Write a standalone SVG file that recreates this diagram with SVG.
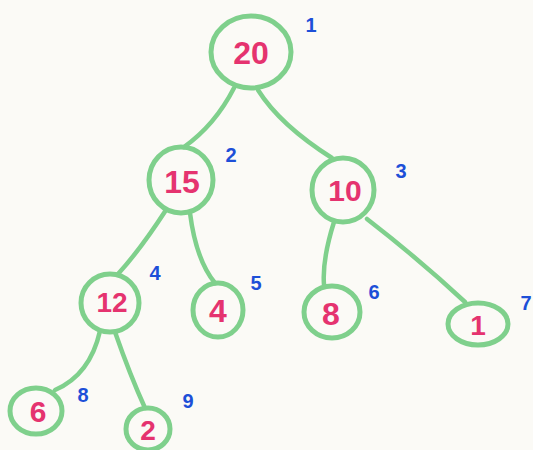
<svg xmlns="http://www.w3.org/2000/svg" width="533" height="450" viewBox="0 0 533 450">
<style>
.n{fill:none;stroke:#7fd08c;stroke-width:5}
.e{fill:none;stroke:#7fd08c;stroke-width:4.5;stroke-linecap:round}
.v{font-family:"Liberation Sans",Arial,sans-serif;fill:#e5336f;text-anchor:middle;font-weight:bold}
.i{font-family:"Liberation Sans",Arial,sans-serif;fill:#1d4fd8;text-anchor:middle;font-weight:bold;font-size:20px}
</style>
<rect width="533" height="450" fill="#fbfaf6"/>
<g id="edges">
<path class="e" d="M234,88 Q215,125 184,147"/>
<path class="e" d="M258,90 Q280,125 332,158"/>
<path class="e" d="M166,210 Q140,250 118,274"/>
<path class="e" d="M190,213 Q196,260 215,283"/>
<path class="e" d="M334,222 Q322,260 324,285"/>
<path class="e" d="M367,219 Q420,260 465,302"/>
<path class="e" d="M100,331 Q90,375 55,390"/>
<path class="e" d="M115,332 Q130,375 145,408"/>
</g>
<g id="n1"><ellipse class="n" cx="251" cy="52" rx="40" ry="36"/><text class="v" x="251" y="64" font-size="32">20</text><text class="i" x="311" y="32">1</text></g>
<g id="n2"><ellipse class="n" cx="181" cy="180" rx="32" ry="33"/><text class="v" x="182" y="193" font-size="32">15</text><text class="i" x="231" y="162">2</text></g>
<g id="n3"><ellipse class="n" cx="343" cy="190" rx="31" ry="32"/><text class="v" x="345" y="201" font-size="30">10</text><text class="i" x="401" y="178">3</text></g>
<g id="n4"><ellipse class="n" cx="110" cy="303" rx="29" ry="29"/><text class="v" x="112" y="312" font-size="28">12</text><text class="i" x="155" y="280">4</text></g>
<g id="n5"><ellipse class="n" cx="218" cy="310" rx="25" ry="27"/><text class="v" x="218" y="322" font-size="32">4</text><text class="i" x="256" y="290">5</text></g>
<g id="n6"><ellipse class="n" cx="332" cy="312" rx="28" ry="26"/><text class="v" x="331" y="325" font-size="32">8</text><text class="i" x="374" y="299">6</text></g>
<g id="n7"><ellipse class="n" cx="478" cy="324" rx="30" ry="21"/><text class="v" x="478" y="335" font-size="28">1</text><text class="i" x="526" y="310">7</text></g>
<g id="n8"><ellipse class="n" cx="36" cy="411" rx="26" ry="23"/><text class="v" x="38" y="422" font-size="30">6</text><text class="i" x="83" y="402">8</text></g>
<g id="n9"><ellipse class="n" cx="148" cy="429" rx="22" ry="21"/><text class="v" x="148" y="440" font-size="28">2</text><text class="i" x="188" y="408">9</text></g>
</svg>
